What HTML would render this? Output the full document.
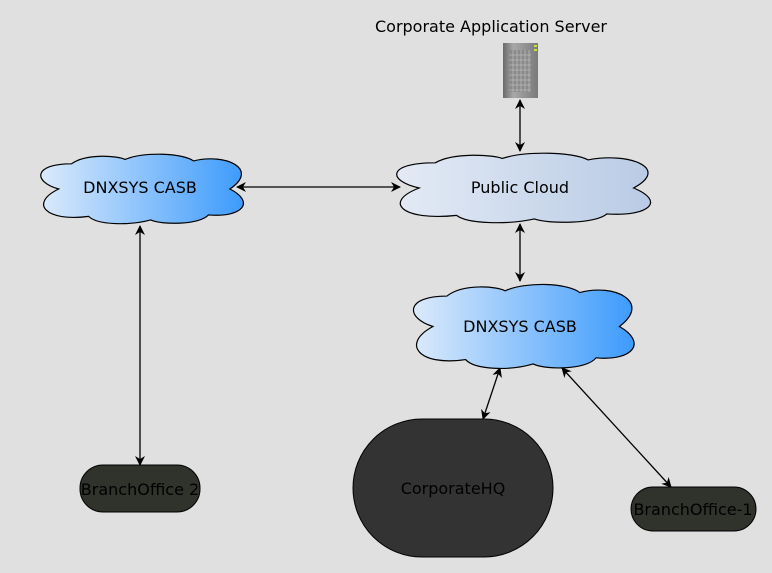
<!DOCTYPE html>
<html><head><meta charset="utf-8"><style>
html,body{margin:0;padding:0;background:#e0e0e0;}
svg{display:block;font-family:"DejaVu Sans","Liberation Sans",sans-serif;}
</style></head><body>
<svg width="772" height="573" viewBox="0 0 772 573" xmlns="http://www.w3.org/2000/svg">
<defs>
<linearGradient id="g1" x1="0" x2="1" y1="0" y2="0"><stop offset="0" stop-color="#dbeafb"/><stop offset="1" stop-color="#3d9bfc"/></linearGradient>
<linearGradient id="g2" x1="0" x2="1" y1="0" y2="0"><stop offset="0" stop-color="#e3eaf5"/><stop offset="1" stop-color="#b9cbe5"/></linearGradient>
<linearGradient id="sv" x1="0" x2="1"><stop offset="0" stop-color="#6a6a6a"/><stop offset="0.3" stop-color="#a8a8a8"/><stop offset="1" stop-color="#7a7a7a"/></linearGradient>
<marker id="a" viewBox="0 0 10 10" refX="9" refY="5" markerWidth="10" markerHeight="10" markerUnits="userSpaceOnUse" orient="auto-start-reverse"><path d="M0,0 L10,5 L0,10 L3,5 Z" fill="#000"/></marker>
</defs>

<text x="491" y="32" font-size="16" text-anchor="middle" fill="#000">Corporate Application Server</text>
<rect x="503" y="43" width="35" height="55" fill="url(#sv)"/>
<rect x="509" y="50" width="22" height="42" fill="#8a8a8a"/>
<g stroke="#c8c8c8" stroke-width="0.6">
<path d="M509,55H531M509,60H531M509,65H531M509,70H531M509,75H531M509,80H531M509,85H531M509,90H531M513,50V92M517,50V92M521,50V92M525,50V92M529,50V92"/>
</g>
<rect x="534" y="45" width="3" height="2" fill="#c9e04a"/><rect x="534" y="49" width="3" height="2" fill="#c9e04a"/>

<g fill="none" stroke="#000" stroke-width="1.3" marker-start="url(#a)" marker-end="url(#a)">
<line x1="520" y1="100" x2="520" y2="151"/>
<line x1="237" y1="187" x2="400" y2="187"/>
<line x1="520" y1="224" x2="520" y2="281"/>
<line x1="140" y1="226" x2="140" y2="465"/>
<line x1="500" y1="368" x2="483" y2="419"/>
<line x1="562" y1="368" x2="671" y2="487"/>
</g>

<path d="M12,50 C0,40 0,15 18,15 C25,0 40,4 43,9 C52,-2 70,0 75,11 C90,0 106,22 92,50 C104,68 98,90 82,86 C78,100 60,100 55,93 C45,101 30,100 26,88 C6,96 -2,70 12,50 Z" transform="translate(33,153) scale(2.14,0.72)" fill="url(#g1)" stroke="#000" stroke-width="1.2" vector-effect="non-scaling-stroke"/>
<path d="M12,50 C0,40 0,15 18,15 C25,0 40,4 43,9 C52,-2 70,0 75,11 C90,0 106,22 92,50 C104,68 98,90 82,86 C78,100 60,100 55,93 C45,101 30,100 26,88 C6,96 -2,70 12,50 Z" transform="translate(387,152) scale(2.68,0.72)" fill="url(#g2)" stroke="#000" stroke-width="1.2" vector-effect="non-scaling-stroke"/>
<path d="M12,50 C0,40 0,15 18,15 C25,0 40,4 43,9 C52,-2 70,0 75,11 C90,0 106,22 92,50 C104,68 98,90 82,86 C78,100 60,100 55,93 C45,101 30,100 26,88 C6,96 -2,70 12,50 Z" transform="translate(405,283) scale(2.33,0.87)" fill="url(#g1)" stroke="#000" stroke-width="1.2" vector-effect="non-scaling-stroke"/>
<text x="140" y="193" font-size="16" text-anchor="middle">DNXSYS CASB</text>
<text x="520" y="193" font-size="16" text-anchor="middle">Public Cloud</text>
<text x="520" y="332" font-size="16" text-anchor="middle">DNXSYS CASB</text>

<rect x="80" y="465" width="120" height="47" rx="23" fill="#30322c" stroke="#000"/>
<text x="140" y="495" font-size="16" text-anchor="middle" fill="#000">BranchOffice 2</text>
<rect x="353" y="419" width="200" height="138" rx="69" fill="#333" stroke="#000"/>
<text x="453" y="494" font-size="16" text-anchor="middle" fill="#000">CorporateHQ</text>
<rect x="631" y="487" width="125" height="44" rx="22" fill="#30322c" stroke="#000"/>
<text x="693" y="515" font-size="16" text-anchor="middle" fill="#000">BranchOffice-1</text>
</svg>
</body></html>
